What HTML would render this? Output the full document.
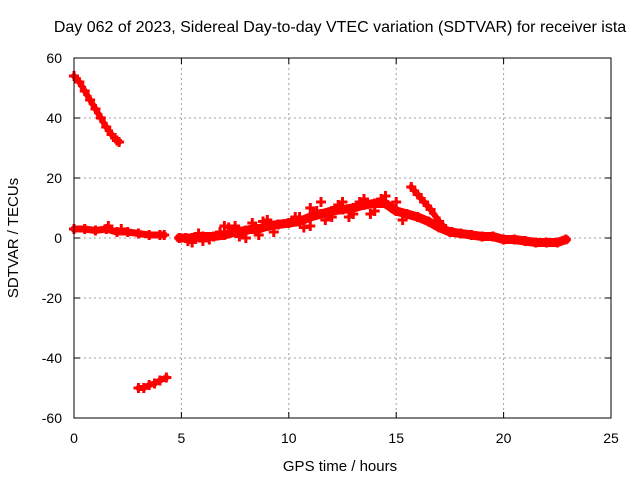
<!DOCTYPE html>
<html><head><meta charset="utf-8"><style>
html,body{margin:0;padding:0;background:#fff;}
svg{display:block;font-family:"Liberation Sans",sans-serif;}
</style></head><body>
<svg id="chart" width="640" height="480" viewBox="0 0 640 480">
<text x="340" y="32" font-size="16" text-anchor="middle" fill="#000">Day 062 of 2023, Sidereal Day-to-day VTEC variation (SDTVAR) for receiver ista</text>
<text x="340" y="471" font-size="15" text-anchor="middle" fill="#000">GPS time / hours</text>
<text transform="translate(18,238) rotate(-90)" font-size="15" text-anchor="middle" fill="#000">SDTVAR / TECUs</text>
<g id="grid"></g>
<g id="ticks"></g>
<g id="series"></g>
<rect x="74" y="58" width="537" height="360" fill="none" stroke="#000" stroke-width="1"/>
</svg>
<script>
const xTicks=[0,5,10,15,20,25];
const yTicks=[-60,-40,-20,0,20,40,60];
const seg1Hours=[0,0.25,0.5,0.75,1,1.25,1.5,1.75,2,2.1];
const seg1Vals=[54,52,49,46,43,40,37,34.5,32.5,32];
const seg2Hours=[0,0.5,1,1.5,2,2.5,3,3.5,4,4.2,4.9,5.2,5.5,6,6.5,7,7.5,8,8.3,8.6,9,9.5,10,10.5,11,11.5,12,12.5,13,13.5,14,14.5,15,15.5,16,16.5,17,17.5,18,18.5,19,19.5,20,20.5,21,21.5,22,22.5,22.9];
const seg2Vals=[3,3,2.5,3,2,2,1.5,1,1,1,0,0,0,0.5,0.5,1,2,2.5,3,3,4,4.5,5,5.5,7,8,9,9.5,10,11,11.5,11.5,9,8,7,5.5,3.5,2,1.5,1,0.5,0.5,-0.5,-0.5,-1,-1.5,-1.5,-1.5,-0.5];
const seg2Scatter=[[1.6,4],[2.2,3],[5.3,-1],[5.8,1.5],[6.3,-0.5],[6.8,2],[7.2,3.5],[7.5,4],[7.7,0.5],[8,0],[8.3,5],[8.6,1],[8.8,5.5],[9,6],[9.3,2],[10.3,7],[10.5,7],[10.7,3.5],[11,10],[11,4],[11.3,9],[11.5,12],[11.7,6],[12,7],[12.3,11],[12.5,12],[12.8,7],[13,8],[13.3,12],[13.5,13],[13.8,8],[14,9],[14.3,13],[14.5,14],[14.8,10],[15,12],[15.3,6],[5.5,-1.5],[6,-1],[7,4]];
const seg3Hours=[15.7,16,16.3,16.6,17,17.3,17.6];
const seg3Vals=[17,14.5,12,9.5,5.5,3,2];
const seg4Hours=[3,3.25,3.5,3.75,4,4.3];
const seg4Vals=[-50,-50,-49,-48.5,-47.5,-46.5];
const X=h=>74+h*537/25;
const Y=v=>238-v*3;
const NS="http://www.w3.org/2000/svg";
const grid=document.getElementById('grid'),ticks=document.getElementById('ticks'),ser=document.getElementById('series');
function mk(tag,attrs,parent){const e=document.createElementNS(NS,tag);for(const k in attrs)e.setAttribute(k,attrs[k]);parent.appendChild(e);return e;}
xTicks.forEach(t=>{
  const x=X(t);
  if(t>0&&t<25){const g=mk('line',{x1:x,x2:x,y1:58,y2:418,stroke:'#a0a0a0','stroke-dasharray':'2,3'},grid);
  
  }
  mk('line',{x1:x,x2:x,y1:418,y2:412,stroke:'#000'},ticks);
  mk('line',{x1:x,x2:x,y1:58,y2:64,stroke:'#000'},ticks);
  const l=mk('text',{x:x,y:443,'font-size':14,'text-anchor':'middle'},ticks);l.textContent=t;
  
  
});
yTicks.forEach(t=>{
  const y=Y(t);
  if(t>-60&&t<60){const g=mk('line',{x1:74,x2:611,y1:y,y2:y,stroke:'#a0a0a0','stroke-dasharray':'2,3'},grid);
  
  }
  mk('line',{x1:74,x2:80,y1:y,y2:y,stroke:'#000'},ticks);
  mk('line',{x1:605,x2:611,y1:y,y2:y,stroke:'#000'},ticks);
  const l=mk('text',{x:62,y:y+5,'font-size':14,'text-anchor':'end'},ticks);l.textContent=t;
  
  
});
function drawSeg(hs,vs,name,w){
  const pts=hs.map((h,i)=>X(h)+','+Y(vs[i])).join(' ');
  const pl=mk('polyline',{points:pts,fill:'none',stroke:'#f00','stroke-width':w,'stroke-linejoin':'round','stroke-linecap':'round'},ser);
  
  
  hs.forEach((h,i)=>plus(h,vs[i]));
}
function plus(h,v){
  const x=X(h),y=Y(v);
  const p=mk('path',{d:`M${x-5},${y}H${x+5}M${x},${y-5}V${y+5}`,stroke:'#f00','stroke-width':3},ser);
  
  
}
drawSeg(seg1Hours,seg1Vals,'series-segment-early',6);
drawSeg(seg2Hours.slice(0,10),seg2Vals.slice(0,10),'series-segment-baseline-a',7);
drawSeg(seg2Hours.slice(10),seg2Vals.slice(10),'series-segment-baseline-b',9);
drawSeg(seg3Hours,seg3Vals,'series-segment-late',6);
drawSeg(seg4Hours,seg4Vals,'series-segment-negative',6);
seg2Scatter.forEach(p=>plus(p[0],p[1]));
</script>
</body></html>
